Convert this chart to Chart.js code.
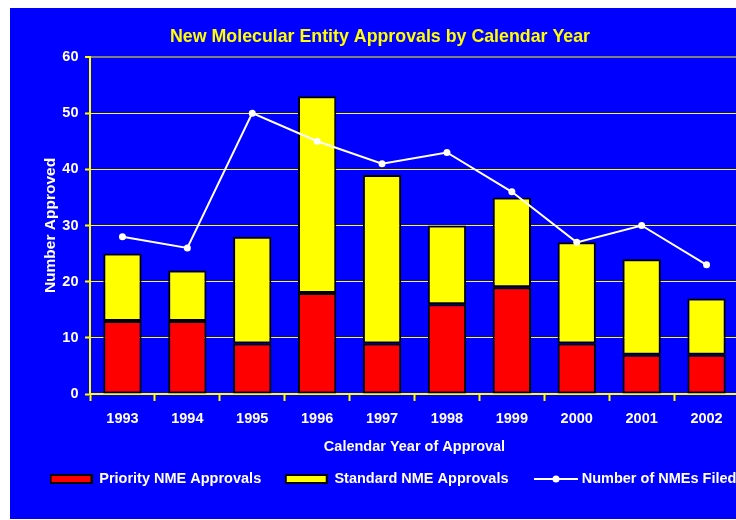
<!DOCTYPE html>
<html>
<head>
<meta charset="utf-8">
<title>New Molecular Entity Approvals by Calendar Year</title>
<script src="https://cdn.jsdelivr.net/npm/chart.js@4.4.1/dist/chart.umd.min.js"></script>
<style>
  html, body { margin: 0; padding: 0; background: #ffffff; overflow: hidden; width: 736px; height: 520px; }
  #wrap { position: absolute; left: 10px; top: 8px; width: 790px; height: 511px; background: #0000ff; }
</style>
</head>
<body>
<div id="wrap"><canvas id="nmeChart" width="790" height="511"></canvas></div>
<script>
// ==================== data ====================
const years = ['1993', '1994', '1995', '1996', '1997', '1998', '1999', '2000', '2001', '2002'];
const priorityApprovals = [13, 13, 9, 18, 9, 16, 19, 9, 7, 7];
const standardApprovals = [12, 9, 19, 35, 30, 14, 16, 18, 17, 10];
const nmesFiled = [28, 26, 50, 45, 41, 43, 36, 27, 30, 23];
const yTicks = [0, 10, 20, 30, 40, 50, 60];
const chartTitle = 'New Molecular Entity Approvals by Calendar Year';

// colours
const colors = {
  bg: '#0000ff',
  red: '#ff0000',
  yellow: '#ffff00',
  white: '#ffffff',
  black: '#000000',
  gray: '#808080'
};

const fontFamily = '"Liberation Sans", Arial, sans-serif';
Chart.defaults.font.family = fontFamily;
Chart.defaults.font.weight = 'bold';

// legend icons (drawn as small canvases)
function makeBoxIcon(fill) {
  const c = document.createElement('canvas');
  c.width = 43;
  c.height = 10;
  const g = c.getContext('2d');
  g.fillStyle = colors.black;
  g.fillRect(0, 0, 43, 10);
  g.fillStyle = fill;
  g.fillRect(2, 2, 39, 6);
  return c;
}

function makeLineIcon() {
  // transparent strip on the left nudges the line to the right
  const c = document.createElement('canvas');
  c.width = 55;
  c.height = 10;
  const g = c.getContext('2d');
  g.strokeStyle = colors.white;
  g.lineWidth = 2;
  g.beginPath();
  g.moveTo(8, 5);
  g.lineTo(52, 5);
  g.stroke();
  g.fillStyle = colors.white;
  g.beginPath();
  g.arc(30, 5, 3.5, 0, Math.PI * 2);
  g.fill();
  return c;
}

const legendIcons = [makeBoxIcon(colors.red), makeBoxIcon(colors.yellow), makeLineIcon()];

// title is drawn by hand: it sits left of the (clipped) canvas centre
const titlePlugin = {
  id: 'offsetTitle',
  afterDraw(chart) {
    const ctx = chart.ctx;
    ctx.save();
    ctx.font = 'bold 17.8px ' + fontFamily;
    ctx.fillStyle = colors.yellow;
    ctx.textAlign = 'center';
    ctx.textBaseline = 'middle';
    ctx.fillText(chartTitle, 370, 29.5);
    ctx.restore();
  }
};

function createNmeChart() {
  const ctx = document.getElementById('nmeChart').getContext('2d');
  return new Chart(ctx, {
    type: 'bar',
    data: {
      labels: years,
      datasets: [
        {
          label: 'Priority NME Approvals',
          data: priorityApprovals,
          backgroundColor: colors.red,
          borderColor: colors.black,
          borderWidth: 2,
          borderSkipped: false,
          stack: 'approved',
          order: 1,
          categoryPercentage: 1,
          barPercentage: 0.59
        },
        {
          label: 'Standard NME Approvals',
          data: standardApprovals,
          backgroundColor: colors.yellow,
          borderColor: colors.black,
          borderWidth: 2,
          borderSkipped: false,
          stack: 'approved',
          order: 1,
          categoryPercentage: 1,
          barPercentage: 0.59
        },
        {
          type: 'line',
          label: 'Number of NMEs Filed',
          data: nmesFiled,
          borderColor: colors.white,
          backgroundColor: colors.white,
          borderWidth: 2,
          pointRadius: 3.5,
          pointBackgroundColor: colors.white,
          pointBorderColor: colors.white,
          pointBorderWidth: 0,
          tension: 0,
          stack: 'filed',
          order: 0,
          clip: false
        }
      ]
    },
    plugins: [titlePlugin],
    options: {
      responsive: false,
      animation: false,
      layout: {
        padding: { left: 16, right: 0, top: 49, bottom: 22.75 }
      },
      plugins: {
        title: { display: false },
        legend: {
          position: 'bottom',
          align: 'start',
          labels: {
            color: colors.white,
            font: { size: 14.5, weight: 'bold' },
            usePointStyle: true,
            pointStyleWidth: 42,
            padding: 24,
            sort: (a, b) => a.datasetIndex - b.datasetIndex,
            generateLabels: (chart) => {
              const items = Chart.defaults.plugins.legend.labels.generateLabels(chart);
              return items.map(item => ({ ...item, pointStyle: legendIcons[item.datasetIndex] }));
            }
          }
        },
        tooltip: { enabled: false }
      },
      scales: {
        x: {
          stacked: true,
          grid: {
            display: true,
            offset: true,
            drawOnChartArea: false,
            drawTicks: true,
            tickLength: 7,
            tickColor: colors.yellow,
            tickWidth: 2
          },
          border: { display: true, color: colors.yellow, width: 2 },
          ticks: {
            color: colors.white,
            font: { size: 14.5, weight: 'bold' },
            padding: 9.3,
            maxRotation: 0
          },
          title: {
            display: true,
            text: 'Calendar Year of Approval',
            color: colors.white,
            font: { size: 14.5, weight: 'bold' },
            padding: { top: 0, bottom: -7.65 }
          },
          afterFit: (scale) => { scale.height = 53.75; }
        },
        y: {
          stacked: true,
          min: yTicks[0],
          max: yTicks[yTicks.length - 1],
          afterBuildTicks: (scale) => { scale.ticks = yTicks.map(v => ({ value: v })); },
          grid: {
            color: (c) => (c.tick && c.tick.value === 60 ? colors.gray : colors.yellow),
            lineWidth: (c) => (c.tick && c.tick.value === 60 ? 2 : 1),
            drawTicks: true,
            tickLength: 5,
            tickColor: colors.yellow,
            tickWidth: 2
          },
          border: { display: true, color: colors.yellow, width: 2 },
          ticks: {
            color: colors.white,
            font: { size: 14.5, weight: 'bold' },
            padding: 6.5
          },
          title: {
            display: true,
            text: 'Number Approved',
            color: colors.white,
            font: { size: 15.5, weight: 'bold' },
            padding: { top: 15, bottom: 0 }
          },
          afterFit: (scale) => { scale.width = 64; }
        },
        // empty box on the right so the plot area runs past the window edge
        yRight: {
          type: 'linear',
          position: 'right',
          display: true,
          grid: { display: false, drawTicks: false },
          border: { display: false },
          ticks: { display: false },
          afterFit: (scale) => { scale.width = 61; }
        }
      }
    }
  });
}

createNmeChart();
</script>
</body>
</html>
